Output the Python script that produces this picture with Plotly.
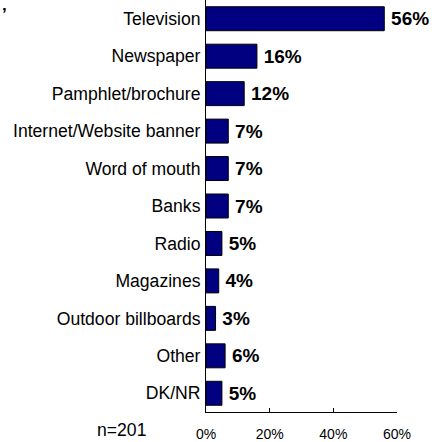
import plotly.graph_objects as go

categories = ["Television", "Newspaper", "Pamphlet/brochure", "Internet/Website banner",
              "Word of mouth", "Banks", "Radio", "Magazines", "Outdoor billboards",
              "Other", "DK/NR"]
values = [56, 16, 12, 7, 7, 7, 5, 4, 3, 6, 5]
tick_vals = [0, 20, 40, 60]
tick_text = ["0%", "20%", "40%", "60%"]
sample_note = "n=201"

fig = go.Figure(go.Bar(
    x=values, y=categories, orientation="h",
    marker=dict(color="#000080", line=dict(color="#000000", width=1)),
    text=[f"\u2009{v}%" for v in values], textposition="outside",
    textfont=dict(family="Liberation Sans, Arial", size=19, color="#000000", weight="bold"),
    cliponaxis=False, width=0.64, hoverinfo="skip",
))

fig.update_layout(
    width=436, height=442,
    margin=dict(l=206, r=39, t=0, b=30),
    plot_bgcolor="white", paper_bgcolor="white",
    showlegend=False,
    font=dict(family="Liberation Sans, Arial", color="#000000"),
    xaxis=dict(range=[0, 60], tickvals=tick_vals, ticktext=tick_text,
               showgrid=False, zeroline=False, showline=True, linecolor="#000000",
               linewidth=1, ticks="inside", ticklen=4, tickcolor="#000000",
               tickfont=dict(size=14), ticklabelstandoff=9, fixedrange=True),
    yaxis=dict(autorange="reversed", showgrid=False, zeroline=False, showline=True,
               linecolor="#000000", linewidth=1, ticks="", tickfont=dict(size=17.6),
               ticklabelstandoff=1, fixedrange=True),
    annotations=[
        dict(text=sample_note, xref="paper", yref="paper", x=-0.445, y=-0.044,
             xanchor="center", yanchor="middle", showarrow=False,
             font=dict(size=17.6, color="#000000")),
        dict(text="’", xref="paper", yref="paper", x=-1.078, y=0.965,
             xanchor="left", yanchor="middle", showarrow=False,
             font=dict(size=17, color="#000000", weight="bold")),
    ],
)

fig.write_html("out.html", config={"displayModeBar": False},
               post_script="document.body.style.margin='0';")
